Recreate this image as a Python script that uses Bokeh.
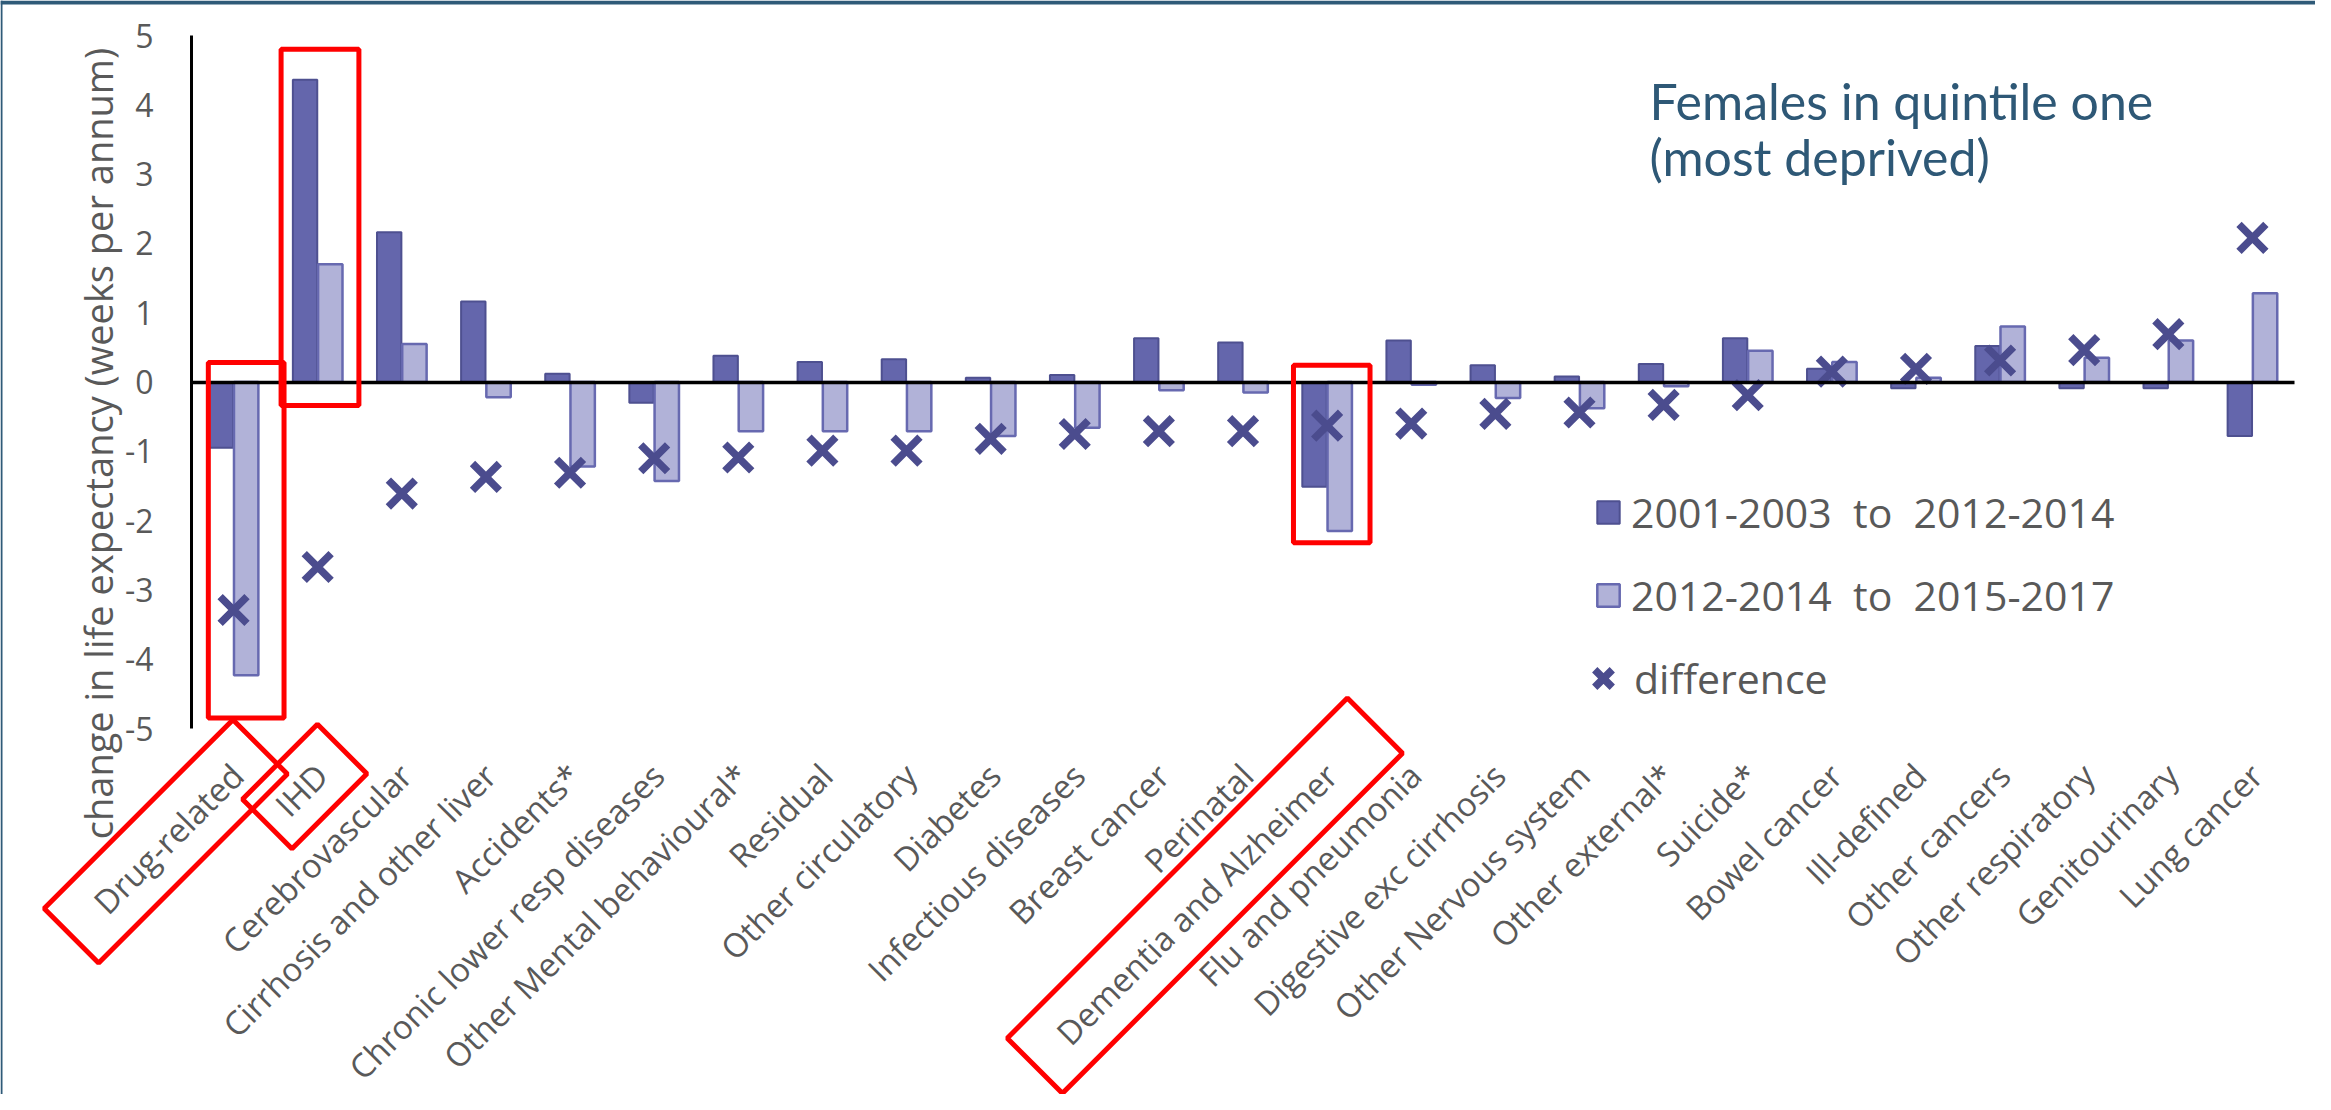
import math
from bokeh.plotting import figure
from bokeh.models import (ColumnDataSource, Range1d, LabelSet, Label, BoxAnnotation,
                          PolyAnnotation, Legend, LegendItem, FixedTicker)
from bokeh.transform import dodge
from bokeh.core.properties import value
from bokeh.embed import file_html
from bokeh.resources import INLINE

# ---------------- data ----------------
categories = [
    "Drug-related", "IHD", "Cerebrovascular", "Cirrhosis and other liver", "Accidents*",
    "Chronic lower resp diseases", "Other Mental behavioural*", "Residual", "Other circulatory",
    "Diabetes", "Infectious diseases", "Breast cancer", "Perinatal", "Dementia and Alzheimer",
    "Flu and pneumonia", "Digestive exc cirrhosis", "Other Nervous system", "Other external*",
    "Suicide*", "Bowel cancer", "Ill-defined", "Other cancers", "Other respiratory",
    "Genitourinary", "Lung cancer",
]
change_2001_2014 = [-0.95, 4.36, 2.16, 1.16, 0.12, -0.30, 0.38, 0.29, 0.33, 0.06, 0.10, 0.63, 0.57,
                    -1.51, 0.60, 0.24, 0.08, 0.26, 0.63, 0.19, -0.09, 0.52, -0.09, -0.09, -0.78]
change_2014_2017 = [-4.23, 1.70, 0.55, -0.22, -1.22, -1.43, -0.71, -0.71, -0.71, -0.78, -0.66, -0.12, -0.15,
                    -2.15, -0.04, -0.23, -0.38, -0.06, 0.45, 0.29, 0.06, 0.80, 0.35, 0.60, 1.28]
difference = [-3.29, -2.67, -1.61, -1.37, -1.31, -1.10, -1.09, -0.99, -0.99, -0.82, -0.75, -0.71, -0.71,
              -0.63, -0.60, -0.46, -0.44, -0.33, -0.19, 0.15, 0.19, 0.31, 0.46, 0.69, 2.08]
legend_labels = ["2001-2003  to  2012-2014", "2012-2014  to  2015-2017", "difference"]
title_lines = ["Females in quintile one", "(most deprived)"]
y_title = "change in life expectancy (weeks per annum)"
y_ticks = [-5, -4, -3, -2, -1, 0, 1, 2, 3, 4, 5]

# red highlight annotations
# around bars: (category, left/right offset in category units, top, bottom)
bar_boxes = [("Drug-related", 0.20, 1.10, 0.28, -4.85),
             ("IHD", 0.065, 0.99, 4.80, -0.34),
             ("Dementia and Alzheimer", 0.10, 1.01, 0.24, -2.32)]
# around labels: (category, start / end along the text in px, half width in px)
label_boxes = [("Drug-related", -235, 32, 38.5),
               ("IHD", -77, 29, 35),
               ("Dementia and Alzheimer", -419, 62, 39)]

# ---------------- layout (canvas pixels) ----------------
W, H = 2315, 1094
AXIS_X_PX = 191          # pixel of the first category's left edge (y axis)
CAT_PX = 84.12           # pixels per category
ZERO_Y_PX = 381.5        # pixel of y = 0
UNIT_PX = 69.3           # pixels per y unit
N = len(categories)

x_start = -AXIS_X_PX / CAT_PX
x_end = (W - AXIS_X_PX) / CAT_PX
y_top = ZERO_Y_PX / UNIT_PX
y_bottom = (ZERO_Y_PX - H) / UNIT_PX


def px_to_data(px, py):
    return (px - AXIS_X_PX) / CAT_PX, (ZERO_Y_PX - py) / UNIT_PX


GRAY = "#595959"
DARK_FILL, DARK_LINE = "#6466AC", "#4E5090"
LIGHT_FILL, LIGHT_LINE = "#B1B2D8", "#6769B0"
X_COLOR = "#4B4C8E"
TITLE_COLOR = "#2E5876"
FRAME_COLOR = "#2F5A78"
RED = "#FF0000"

p = figure(x_range=Range1d(x_start, x_end), y_range=Range1d(y_bottom, y_top),
           width=W, height=H, min_border=0, min_border_left=0, min_border_right=0,
           min_border_top=0, min_border_bottom=0,
           output_backend="svg", toolbar_location=None,
           background_fill_color="white", border_fill_color="white", outline_line_color=None)

p.xgrid.grid_line_color = None
p.ygrid.grid_line_color = None

# slide frame edges (top and left)
p.add_layout(BoxAnnotation(bottom=px_to_data(0, 4)[1], fill_color=FRAME_COLOR, fill_alpha=1,
                           line_color=None, level="underlay"))
p.add_layout(BoxAnnotation(right=px_to_data(2, 0)[0], fill_color=FRAME_COLOR, fill_alpha=1,
                           line_color=None, level="underlay"))

# zero line: x axis fixed at y = 0 spanning the categories
xa = p.xaxis[0]
xa.fixed_location = 0
xa.bounds = (0, N)
xa.ticker = FixedTicker(ticks=[])
xa.major_tick_line_color = None
xa.minor_tick_line_color = None
xa.major_label_text_font_size = "0px"
xa.axis_line_color = "black"
xa.axis_line_width = 3.3

# y axis fixed at the left edge of the first category
ya = p.yaxis[0]
ya.fixed_location = 0
ya.bounds = (-5, 5)
ya.ticker = FixedTicker(ticks=y_ticks)
ya.major_label_overrides = {t: str(t) for t in y_ticks}
ya.major_tick_line_color = None
ya.minor_tick_line_color = None
ya.major_tick_out = 0
ya.major_tick_in = 0
ya.minor_tick_out = 0
ya.axis_line_color = "black"
ya.axis_line_width = 3
ya.major_label_standoff = 38
ya.major_label_text_font = "Open Sans"
ya.major_label_text_font_size = "32px"
ya.major_label_text_color = GRAY

src = ColumnDataSource(dict(category=categories,
                            pos=[i + 0.5 for i in range(N)],
                            a=change_2001_2014, b=change_2014_2017, d=difference))

dark = p.vbar(x=dodge("pos", -0.15), top="a", bottom=0, width=0.29, source=src,
              fill_color=DARK_FILL, line_color=DARK_LINE, line_width=2)
light = p.vbar(x=dodge("pos", 0.15), top="b", bottom=0, width=0.29, source=src,
               fill_color=LIGHT_FILL, line_color=LIGHT_LINE, line_width=2.5)
diff = p.scatter(x="pos", y="d", marker="x", size=38, line_color=X_COLOR, line_width=7.5, source=src)

# category labels, rotated 45 degrees, hanging below y = -5
LBL_DX, LBL_DY = 4, 41
p.add_layout(LabelSet(x="pos", y=-5, text="category", source=src, x_offset=LBL_DX, y_offset=-LBL_DY,
                      angle=math.pi / 4, text_align="right", text_baseline="middle",
                      text_font=value("Open Sans"), text_font_size=value("33px"), text_color=GRAY))

# y axis title
tx, ty = px_to_data(97, 443)
p.add_layout(Label(x=tx, y=ty, text=y_title, angle=math.pi / 2, text_align="center",
                   text_baseline="alphabetic", text_font="Open Sans", text_font_size="38px",
                   text_color=GRAY))

# chart title
for line, py in zip(title_lines, [100, 156]):
    lx, ly = px_to_data(1649, py)
    p.add_layout(Label(x=lx, y=ly, text=line, text_align="left", text_baseline="alphabetic",
                       text_font="Lato", text_font_size="50px", text_color=TITLE_COLOR))

# red highlight boxes around bars
for name, l, r, t, b in bar_boxes:
    i = categories.index(name)
    p.add_layout(BoxAnnotation(left=i + l, right=i + r, top=t, bottom=b, fill_color=None,
                               fill_alpha=0, line_color=RED, line_alpha=1, line_width=5))

# red highlight boxes around labels (rotated with the text)
c = math.cos(math.pi / 4)
for name, a0, a1, w in label_boxes:
    i = categories.index(name)
    ax = i + 0.5 + LBL_DX / CAT_PX
    ay = -5 - LBL_DY / UNIT_PX
    ux, uy = c / CAT_PX, c / UNIT_PX
    nx, ny = c / CAT_PX, -c / UNIT_PX
    pts = [(a0, -w), (a1, -w), (a1, w), (a0, w)]
    xs = [ax + a * ux + bb * nx for a, bb in pts]
    ys = [ay + a * uy + bb * ny for a, bb in pts]
    p.add_layout(PolyAnnotation(xs=xs, ys=ys, xs_units="data", ys_units="data", fill_color=None,
                                fill_alpha=0, line_color=RED, line_alpha=1, line_width=5))

# legends
leg1 = Legend(items=[LegendItem(label=legend_labels[0], renderers=[dark]),
                     LegendItem(label=legend_labels[1], renderers=[light])],
              location=(1594, 471), glyph_width=28, glyph_height=28, label_standoff=9, spacing=27,
              padding=0, margin=0, border_line_color=None, background_fill_alpha=0,
              label_text_font="Open Sans", label_text_font_size="41px", label_text_color=GRAY)
leg2 = Legend(items=[LegendItem(label=legend_labels[2], renderers=[diff])],
              location=(1572, 376), glyph_width=62, glyph_height=80, label_standoff=0,
              padding=0, margin=0, border_line_color=None, background_fill_alpha=0,
              label_text_font="Open Sans", label_text_font_size="41px", label_text_color=GRAY)
p.add_layout(leg1)
p.add_layout(leg2)

open("out.html", "w").write(file_html(p, INLINE))
